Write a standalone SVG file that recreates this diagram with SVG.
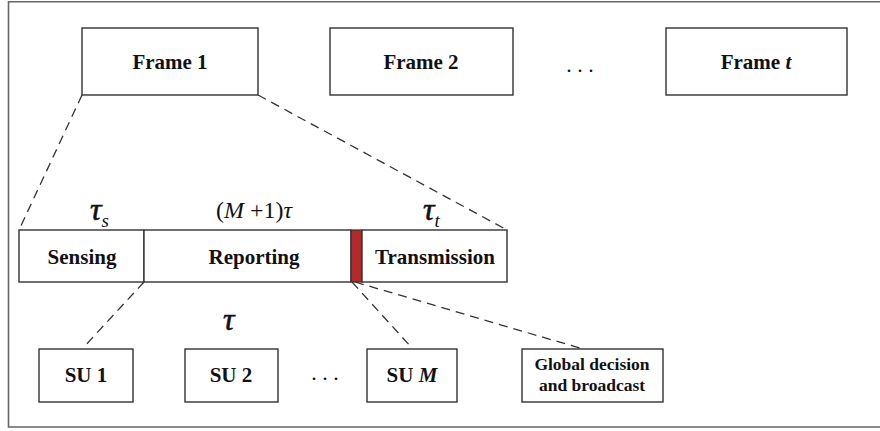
<svg xmlns="http://www.w3.org/2000/svg" width="880" height="431" viewBox="0 0 880 431">
  <style>
    .box { fill: #ffffff; stroke: #333333; stroke-width: 1.4; }
    .frame { fill: none; stroke: #666666; stroke-width: 1.6; }
    .lbl { font-family: "Liberation Serif", "Times New Roman", serif; font-weight: bold; font-size: 21px; fill: #111111; text-anchor: middle; }
    .small { font-size: 17.5px; }
    .math { font-family: "Liberation Serif", "Times New Roman", serif; font-style: italic; fill: #111111; }
    .tau { stroke: #111111; stroke-width: 0.6; }
    .dash { fill: none; stroke: #333333; stroke-width: 1.3; stroke-dasharray: 9 6; }
    .dots { font-family: "Liberation Serif", serif; font-size: 22px; fill: #111111; text-anchor: middle; }
  </style>
  <rect x="0" y="0" width="880" height="431" fill="#ffffff"/>
  <!-- outer border (open on the right) -->
  <path class="frame" d="M 884 1.8 L 8.5 1.8 L 8.5 427 L 884 427"/>

  <!-- dashed connectors -->
  <g id="connectors">
    <line class="dash" x1="82" y1="95" x2="19" y2="230"/>
    <line class="dash" x1="258" y1="95" x2="507" y2="230"/>
    <line class="dash" x1="144" y1="282" x2="83" y2="348"/>
    <line class="dash" x1="352" y1="282" x2="412" y2="348"/>
    <line class="dash" x1="355" y1="282" x2="583" y2="349"/>
  </g>

  <!-- top row of frames -->
  <g id="frame1">
    <rect class="box" x="82" y="28" width="176" height="67"/>
    <text class="lbl" x="170" y="69">Frame 1</text>
  </g>
  <g id="frame2">
    <rect class="box" x="330" y="28" width="183" height="67"/>
    <text class="lbl" x="421" y="69">Frame 2</text>
  </g>
  <g id="frame-dots">
    <text class="dots" x="580" y="72">. . .</text>
  </g>
  <g id="frameT">
    <rect class="box" x="666" y="28" width="181" height="67"/>
    <text class="lbl" x="756" y="69">Frame <tspan font-style="italic">t</tspan></text>
  </g>

  <!-- frame structure bar -->
  <g id="sensing">
    <rect class="box" x="19" y="230" width="125" height="52"/>
    <text class="lbl" x="82" y="264">Sensing</text>
    <text class="math" x="90" y="220" font-size="32"><tspan class="tau">τ</tspan><tspan font-size="19" dy="7">s</tspan></text>
  </g>
  <g id="reporting">
    <rect class="box" x="144" y="230" width="207" height="52"/>
    <text class="lbl" x="254" y="264">Reporting</text>
    <text class="math" x="216" y="218" font-size="24"><tspan font-style="normal">(</tspan>M <tspan font-style="normal">+1)</tspan>τ</text>
  </g>
  <g id="decision-slot">
    <rect x="351" y="230" width="11" height="52" fill="#b22a2a" stroke="#333333" stroke-width="1.2"/>
  </g>
  <g id="transmission">
    <rect class="box" x="362" y="230" width="145" height="52"/>
    <text class="lbl" x="435" y="264">Transmission</text>
    <text class="math" x="423" y="220" font-size="32"><tspan class="tau">τ</tspan><tspan font-size="19" dy="7">t</tspan></text>
  </g>

  <!-- secondary users -->
  <g id="su1">
    <rect class="box" x="39" y="349" width="94" height="53"/>
    <text class="lbl" x="86" y="382">SU 1</text>
  </g>
  <g id="su2">
    <rect class="box" x="185" y="349" width="93" height="53"/>
    <text class="lbl" x="231" y="382">SU 2</text>
    <text class="math tau" x="223" y="330" font-size="32">τ</text>
  </g>
  <g id="su-dots">
    <text class="dots" x="325" y="380">. . .</text>
  </g>
  <g id="suM">
    <rect class="box" x="367" y="349" width="90" height="53"/>
    <text class="lbl" x="412" y="382">SU <tspan font-style="italic">M</tspan></text>
  </g>
  <g id="global">
    <rect class="box" x="522" y="349" width="141" height="53"/>
    <text class="lbl small" x="592" y="370">Global decision</text>
    <text class="lbl small" x="592" y="391">and broadcast</text>
  </g>
</svg>
